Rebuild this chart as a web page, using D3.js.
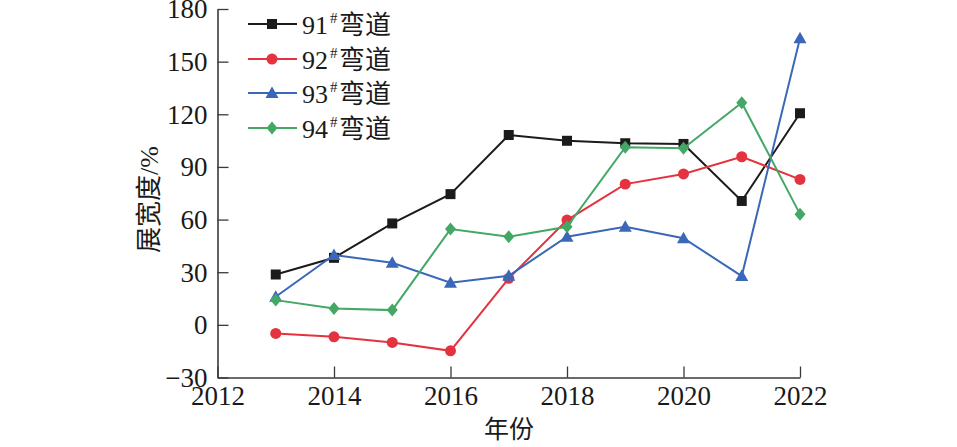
<!DOCTYPE html>
<html lang="en"><head><meta charset="utf-8">
<script src="https://cdn.jsdelivr.net/npm/d3@7"></script>
</head>
<body style="margin:0">
<svg id="chart" width="957" height="447"></svg>
<script>
const years = [2013,2014,2015,2016,2017,2018,2019,2020,2021,2022];
const bend91 = [28.7,38.2,57.8,74.5,108.2,104.9,103.5,103.1,70.6,120.6];
const bend92 = [-4.9,-6.8,-10.0,-14.8,26.5,59.7,80.2,86.0,95.8,82.9];
const bend93 = [16.0,39.8,35.4,24.0,28.0,50.2,55.9,49.4,27.8,163.3];
const bend94 = [14.1,9.3,8.4,54.6,50.2,55.9,101.2,100.6,126.6,63.1];
const seriesNames = ["91","92","93","94"];
const seriesColors = ["#1c1a1b","#e5323f","#3b67b9","#43a865"];
const xTicks = [2012,2014,2016,2018,2020,2022];
const yTicks = [-30,0,30,60,90,120,150,180];

const SERIF = '"Liberation Serif", "Noto Serif", "DejaVu Serif", serif';
const CJK = '"Noto Sans CJK SC"';

const markers = [
  () => "M-5,-5H5V5H-5Z",
  () => d3.symbol().type(d3.symbolCircle).size(95)(),
  () => "M0,-6.5L6.5,5L-6.5,5Z",
  () => "M0,-6.5L5.5,0L0,6.5L-5.5,0Z"
];

const svg = d3.select("#chart");
const x = d3.scaleLinear().domain([2012,2022]).range([217.5,800]);
const y = d3.scaleLinear().domain([-30,180]).range([377.5,9]);

const axisColor = "#3a3a3a";
const gx = svg.append("g").attr("transform",`translate(0,${y(-30)})`)
  .call(d3.axisBottom(x).tickValues(xTicks).tickFormat(d3.format("d"))
    .tickSizeInner(-11).tickSizeOuter(0).tickPadding(9));
const gy = svg.append("g").attr("transform",`translate(${x(2012)},0)`)
  .call(d3.axisLeft(y).tickValues(yTicks).tickFormat(d3.format("d"))
    .tickSizeInner(-11).tickSizeOuter(0).tickPadding(10));
[gx,gy].forEach(g=>{
  g.attr("font-family",SERIF).attr("font-size",27);
  g.select(".domain").attr("stroke",axisColor).attr("stroke-width",1.6);
  g.selectAll(".tick line").attr("stroke",axisColor).attr("stroke-width",1.3);
  g.selectAll(".tick text").attr("fill","#1a1a1a").attr("font-family",SERIF)
    .attr("font-size",27);
});
gx.selectAll(".tick text").attr("dy","0.68em");
gy.selectAll(".tick text").attr("dy","0.33em");

const allSeries = [bend91,bend92,bend93,bend94];
const line = d3.line().x((d,i)=>x(years[i])).y(d=>y(d));
allSeries.forEach((vals,si)=>{
  const col = seriesColors[si];
  svg.append("path").datum(vals).attr("d",line)
    .attr("fill","none").attr("stroke",col).attr("stroke-width",2);
  svg.append("g").selectAll("path").data(vals).join("path")
    .attr("d",markers[si]())
    .attr("transform",(d,i)=>`translate(${x(years[i])},${y(d)})`)
    .attr("fill",col);
});

const legY = [24,59,93,128];
seriesNames.forEach((n,i)=>{
  const g = svg.append("g").attr("transform",`translate(0,${legY[i]})`);
  g.append("line").attr("x1",248).attr("x2",297).attr("y1",0).attr("y2",0)
    .attr("stroke",seriesColors[i]).attr("stroke-width",2);
  g.append("path").attr("d",markers[i]())
    .attr("transform",`translate(272,0)`).attr("fill",seriesColors[i]);
  g.append("text").attr("x",302).attr("y",10).attr("fill","#1a1a1a")
    .attr("font-family",SERIF).attr("font-size",26).text(n);
  g.append("text").attr("x",330).attr("y",-1).attr("fill","#1a1a1a")
    .attr("font-family",SERIF).attr("font-size",15).text("#");
  g.append("text").attr("x",339).attr("y",10).attr("fill","#1a1a1a")
    .attr("font-family",CJK).attr("font-size",26).text("弯道");
});

const ytitle = svg.append("text").attr("transform","translate(158,253) rotate(-90)")
  .attr("text-anchor","start").attr("fill","#1a1a1a").attr("font-size",26)
  .attr("font-family",SERIF);
ytitle.append("tspan").attr("font-family",CJK).text("展宽度");
ytitle.append("tspan").text("/%");
svg.append("text").attr("x",509).attr("y",438).attr("text-anchor","middle")
  .attr("fill","#1a1a1a").attr("font-size",25)
  .attr("font-family",CJK).text("年份");
</script>
</body></html>
